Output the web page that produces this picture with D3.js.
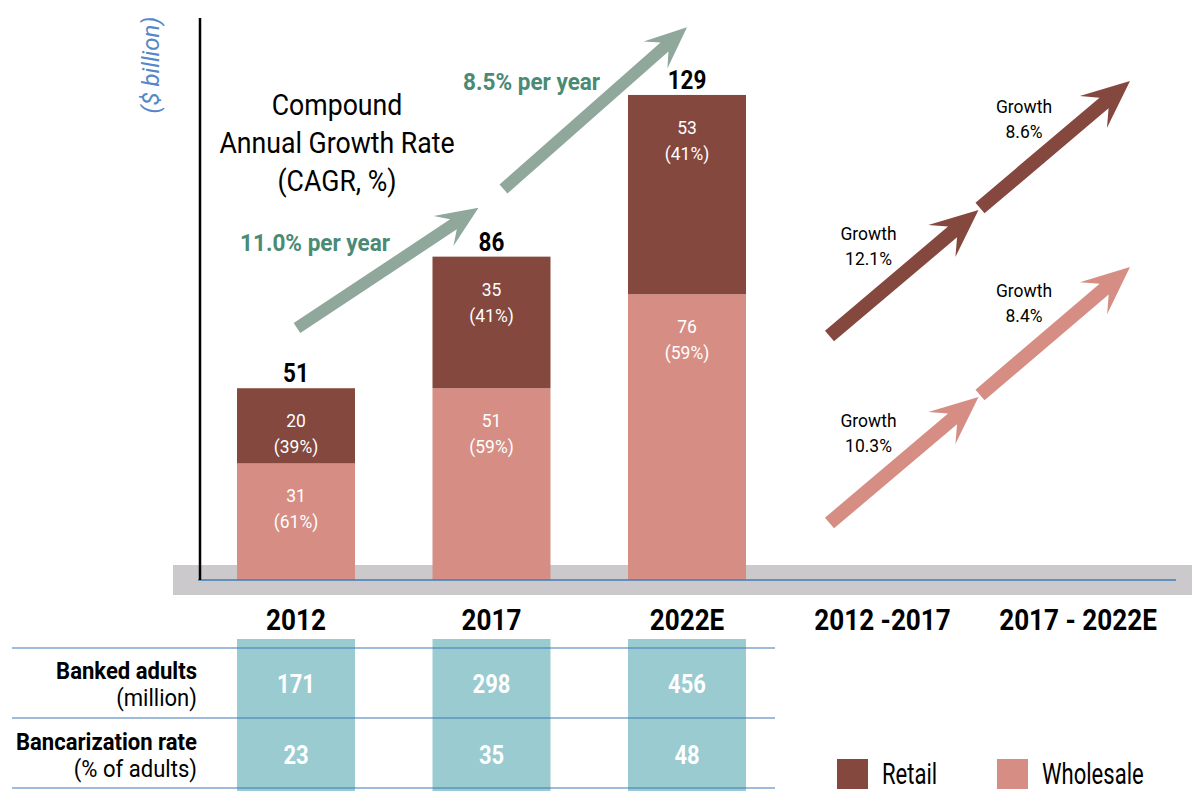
<!DOCTYPE html>
<html><head><meta charset="utf-8">
<script src="https://cdn.jsdelivr.net/npm/d3@7"></script>
<style>
html,body{margin:0;padding:0;background:#fff;}
svg text{font-family:Roboto,"Noto Sans",sans-serif;}
</style></head>
<body>
<svg id="c" width="1192" height="791"></svg>
<script>
// ---- data ----
const years = ["2012", "2017", "2022E"];
const periods = ["2012 -2017", "2017 - 2022E"];
const retail = [20, 35, 53];
const wholesale = [31, 51, 76];
const totals = [51, 86, 129];
const retailShare = ["39%", "41%", "41%"];
const wholesaleShare = ["61%", "59%", "59%"];
const bankedAdults = [171, 298, 456];
const bancarizationRate = [23, 35, 48];
const totalCagr = ["11.0% per year", "8.5% per year"];
const retailGrowth = ["12.1%", "8.6%"];
const wholesaleGrowth = ["10.3%", "8.4%"];
const rowLabels = [["Banked adults", "(million)"], ["Bancarization rate", "(% of adults)"]];
const legendLabels = ["Retail", "Wholesale"];
const titleLines = ["Compound", "Annual Growth Rate", "(CAGR, %)"];

// ---- styles ----
const C = {
  retail: "#84483e", wholesale: "#d68e84", teal: "#99cbd0", band: "#cbc9cc",
  blue: "#3f7bb6", arrowGreen: "#8fa89b", textGreen: "#4b8a74", yLabel: "#5587c8"
};

const svg = d3.select("#c");
const x = d3.scalePoint().domain(years.concat(periods)).range([296, 1078]);
const y = d3.scaleLinear().domain([0, 150]).range([580, 16]);
const bw = 118;

// text helper (k = horizontal condense factor)
function T(parent, str, px, py, o = {}) {
  return parent.append("text")
    .attr("transform", `translate(${px},${py}) scale(${o.k || 1},1)` + (o.rot ? ` rotate(${o.rot})` : ""))
    .attr("text-anchor", o.anchor || "start")
    .attr("font-size", o.size || 18)
    .attr("font-weight", o.weight || "normal")
    .attr("font-style", o.style || "normal")
    .attr("fill", o.fill || "#000")
    .text(str);
}

// gray band
svg.append("rect").attr("x", 173).attr("y", 565).attr("width", 1019).attr("height", 30).attr("fill", C.band);

// bars
const stack = years.map((yr, i) => ({yr, w: wholesale[i], r: retail[i], t: totals[i], i}));
const g = svg.append("g");
g.selectAll(".w").data(stack).join("rect")
  .attr("x", d => x(d.yr) - bw / 2).attr("width", bw)
  .attr("y", d => y(d.w)).attr("height", d => y(0) - y(d.w))
  .attr("fill", C.wholesale);
g.selectAll(".r").data(stack).join("rect")
  .attr("x", d => x(d.yr) - bw / 2).attr("width", bw)
  .attr("y", d => y(d.w + d.r)).attr("height", d => y(d.w) - y(d.w + d.r))
  .attr("fill", C.retail);

// segment labels
stack.forEach(d => {
  const cx = x(d.yr);
  const rt = y(d.w + d.r), wt = y(d.w);
  const lab = (top, a, b) => {
    T(g, a, cx, top + 39, {anchor: "middle", size: 19, fill: "#fff", k: 0.92});
    T(g, "(" + b + ")", cx, top + 65, {anchor: "middle", size: 19, fill: "#fff", k: 0.92});
  };
  lab(rt, d.r, retailShare[d.i]);
  lab(wt, d.w, wholesaleShare[d.i]);
  T(g, d.t, cx, rt - 6, {anchor: "middle", size: 25, weight: "bold", k: 0.9});
});

// axis lines
svg.append("line").attr("x1", 198).attr("x2", 1176).attr("y1", y(0)).attr("y2", y(0))
  .attr("stroke", C.blue).attr("stroke-width", 1.5);
svg.append("line").attr("x1", 200).attr("x2", 200).attr("y1", y(150) + 2).attr("y2", y(0))
  .attr("stroke", "#000").attr("stroke-width", 2.5);

// y label
T(svg, "($ billion)", 159, 65, {anchor: "middle", size: 24, style: "italic", fill: C.yLabel, rot: -90});

// x labels
years.concat(periods).forEach(d => T(svg, d, x(d), 630, {anchor: "middle", size: 29, weight: "bold", k: 0.9}));

// arrow helper
function arrow(x0, y0, x1, y1, half, headLen, headHalf, notch, color) {
  const dx = x1 - x0, dy = y1 - y0, L = Math.hypot(dx, dy);
  const ux = dx / L, uy = dy / L, nx = -uy, ny = ux;
  const bx = x1 - ux * headLen, by = y1 - uy * headLen;
  const sx = x1 - ux * (headLen - notch), sy = y1 - uy * (headLen - notch);
  const pts = [
    [x0 + nx * half, y0 + ny * half],
    [sx + nx * half, sy + ny * half],
    [bx + nx * headHalf, by + ny * headHalf],
    [x1, y1],
    [bx - nx * headHalf, by - ny * headHalf],
    [sx - nx * half, sy - ny * half],
    [x0 - nx * half, y0 - ny * half]
  ];
  svg.append("path").attr("d", d3.line()(pts) + "Z").attr("fill", color);
}

// total CAGR arrows
arrow(x("2012") + 1, y(67), x("2017") - 13, y(99), 6, 42, 18, 12, C.arrowGreen);
arrow(x("2017") + 12, y(104), x("2022E") + 0, y(147), 6, 42, 18, 12, C.arrowGreen);
T(svg, totalCagr[0], 240, 251, {size: 24, weight: "bold", fill: C.textGreen, k: 0.94});
T(svg, totalCagr[1], 463, 90, {size: 24, weight: "bold", fill: C.textGreen, k: 0.94});

// CAGR title
titleLines.forEach((t, i) => T(svg, t, 337, 115 + i * 38, {anchor: "middle", size: 29, k: 0.92}));

// growth arrows (right)
const xa = x(periods[0]), xb = x(periods[1]);
arrow(xa - 53, 336, xa + 96, 210, 7, 48, 21, 14, C.retail);
arrow(xb - 98, 208, xb + 52, 81, 7, 48, 21, 14, C.retail);
arrow(xa - 53, 523, xa + 96, 397, 7, 48, 21, 14, C.wholesale);
arrow(xb - 98, 395, xb + 52, 267, 7, 48, 21, 14, C.wholesale);
const growthLab = (cx, by, v) => {
  T(svg, "Growth", cx, by, {anchor: "middle", size: 19, k: 0.92});
  T(svg, v, cx, by + 25, {anchor: "middle", size: 19, k: 0.92});
};
growthLab(xa - 14, 240, retailGrowth[0]);
growthLab(xb - 54, 113, retailGrowth[1]);
growthLab(xa - 14, 427, wholesaleGrowth[0]);
growthLab(xb - 54, 297, wholesaleGrowth[1]);

// table
svg.selectAll(".cell").data(years).join("rect")
  .attr("x", d => x(d) - bw / 2).attr("width", bw).attr("y", 639).attr("height", 152).attr("fill", C.teal);
[648, 718, 788].forEach(yy => svg.append("line").attr("x1", 12).attr("x2", 775)
  .attr("y1", yy).attr("y2", yy).attr("stroke", C.blue).attr("stroke-width", 1.2));
[bankedAdults, bancarizationRate].forEach((arr, r) => {
  arr.forEach((v, i) => T(svg, v, x(years[i]), 693 + r * 71, {anchor: "middle", size: 25, weight: "bold", fill: "#fff", k: 0.88}));
  T(svg, rowLabels[r][0], 197, 679 + r * 71, {anchor: "end", size: 24, weight: "bold", k: 0.92});
  T(svg, rowLabels[r][1], 197, 706 + r * 71, {anchor: "end", size: 24, k: 0.92});
});

// legend
[[C.retail, 837, 882], [C.wholesale, 997, 1042]].forEach((l, i) => {
  svg.append("rect").attr("x", l[1]).attr("y", 759).attr("width", 31).attr("height", 30).attr("fill", l[0]);
  T(svg, legendLabels[i], l[2], 784, {size: 29, k: 0.76});
});
</script>
</body></html>
